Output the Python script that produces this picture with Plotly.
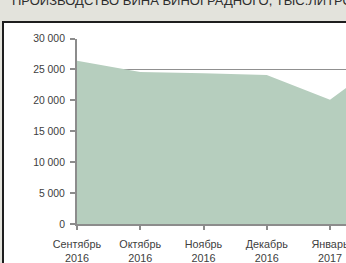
import plotly.graph_objects as go

categories = ["Сентябрь<br>2016", "Октябрь<br>2016", "Ноябрь<br>2016", "Декабрь<br>2016",
              "Январь<br>2017", "Февраль<br>2017"]
values = [26400, 24600, 24400, 24100, 20100, 27600]
y_ticks = [0, 5000, 10000, 15000, 20000, 25000, 30000]
y_ticktext = ["0", "5 000", "10 000", "15 000", "20 000", "25 000", "30 000"]
title_text = "ПРОИЗВОДСТВО ВИНА ВИНОГРАДНОГО, ТЫС.ЛИТРОВ"

W, H = 346, 263
x_left, x_right = 77, 346
y_top, y_bot = 38.5, 224
step = 63.25

fig = go.Figure()
fig.add_trace(go.Scatter(
    x=list(range(len(categories))), y=values, mode="none",
    fill="tozeroy", fillcolor="#b6cebe", hoverinfo="skip", showlegend=False))

fig.update_layout(
    template="none",
    width=W, height=H, autosize=False,
    margin=dict(l=0, r=0, t=0, b=0, pad=0),
    paper_bgcolor="#e3e3dc", plot_bgcolor="rgba(0,0,0,0)",
    font=dict(family="Liberation Sans, Arial, sans-serif", size=10, color="#404040"),
    xaxis=dict(
        automargin=False,
        domain=[x_left / W, 1],
        range=[0, (x_right - x_left) / step],
        tickmode="array", tickvals=list(range(len(categories))), ticktext=categories,
        showgrid=False, zeroline=False,
        showline=True, linecolor="#8c8c8c", linewidth=2,
        ticks="outside", ticklen=4, tickcolor="#8c8c8c", tickwidth=2,
        ticklabelstandoff=5, ticklabeloverflow="allow",
        tickfont=dict(size=10.8, color="#404040"),
    ),
    yaxis=dict(
        automargin=False,
        domain=[(H - y_bot) / H, (H - y_top) / H],
        range=[0, 30000],
        tickmode="array", tickvals=y_ticks, ticktext=y_ticktext,
        showgrid=True, gridcolor="#909090", gridwidth=1.5,
        zeroline=False,
        showline=True, linecolor="#8c8c8c", linewidth=2,
        ticks="outside", ticklen=5, tickcolor="#8c8c8c", tickwidth=2,
        ticklabelstandoff=3,
        tickfont=dict(size=10.4, color="#404040"),
    ),
    shapes=[dict(type="rect", xref="paper", yref="paper",
                 x0=3 / W, x1=1.2, y0=-0.2, y1=(H - 22) / H,
                 line=dict(color="#1e1e1e", width=2), fillcolor="white", layer="below")],
    annotations=[dict(text=title_text, xref="paper", yref="paper",
                      x=10 / W, y=(H - 10.5) / H, xanchor="left", yanchor="bottom",
                      showarrow=False,
                      font=dict(size=13, color="#2e2e2e",
                                family="Liberation Sans, Arial, sans-serif"))],
)

fig.write_html(
    "out.html",
    config={"displayModeBar": False, "staticPlot": True},
    post_script="document.body.style.margin='0';document.body.style.overflow='hidden';",
)
